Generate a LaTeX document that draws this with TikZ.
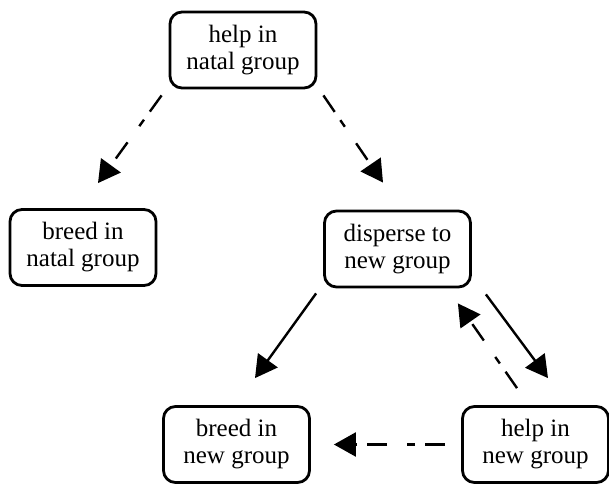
\documentclass[tikz,border=0pt]{standalone}
\usepackage{fontspec}
\setmainfont{Liberation Serif}
\usepackage{tikz}
\usetikzlibrary{arrows.meta}

\begin{document}
\begin{tikzpicture}[x=0.5pt, y=-0.5pt, >={Triangle[length=11pt, width=12pt]},
    state/.style={draw, line width=1.4pt, rounded corners=6pt, align=center,
      minimum width=73pt, minimum height=38pt, inner sep=2pt,
      font=\rmfamily\fontsize{12.5}{13.5}\selectfont},
    move/.style={->, line width=1.2pt},
    maybe/.style={->, line width=1.2pt, dash pattern=on 10pt off 5pt on 4pt off 10pt}]
  \useasboundingbox (0,0) rectangle (609,486);
  % States
  \node[state] (hnatal) at (243,50) {help in\\natal group};
  \node[state] (bnatal) at (83,247.5) {breed in\\natal group};
  \node[state] (disp) at (397.5,249) {disperse to\\new group};
  \node[state] (bnew) at (236.5,444.5) {breed in\\new group};
  \node[state] (hnew) at (535.5,444.5) {help in\\new group};
  % Transitions out of the natal group
  \draw[maybe] ([xshift=-3.5pt, yshift=-3pt]hnatal.south west)
    -- ([xshift=7.5pt, yshift=12.5pt]bnatal.north);
  \draw[maybe] ([xshift=3pt, yshift=-3pt]hnatal.south east)
    -- ([xshift=-7.25pt, yshift=13.5pt]disp.north);
  % After dispersal
  \draw[move] ([xshift=-3.5pt, yshift=-2.5pt]disp.south west)
    -- ([xshift=9.25pt, yshift=13.5pt]bnew.north);
  \draw[move] ([xshift=7pt, yshift=-3pt]disp.south east)
    -- ([xshift=6.25pt, yshift=13.5pt]hnew.north);
  \draw[maybe] ([xshift=-9.25pt, yshift=8.5pt]hnew.north)
    -- ([xshift=-7pt, yshift=-7.5pt]disp.south east);
  \draw[maybe] ([xshift=-8pt]hnew.west) -- ([xshift=11.5pt]bnew.east);
\end{tikzpicture}
\end{document}
